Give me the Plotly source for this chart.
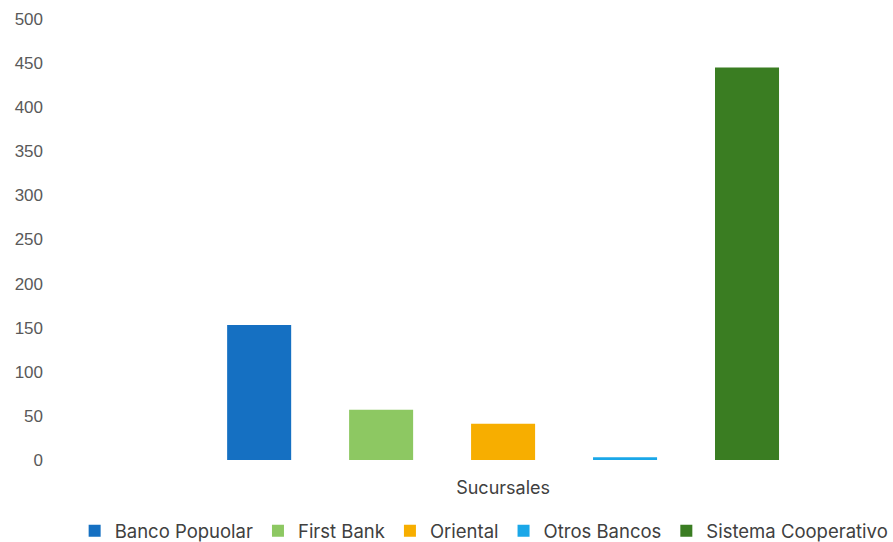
import plotly.graph_objects as go

category = ["Sucursales"]
series_names = ["Banco Popuolar", "First Bank", "Oriental", "Otros Bancos", "Sistema Cooperativo"]
series_values = [153, 57, 41, 3, 445]
series_colors = ["#1570C2", "#8DC862", "#F7AE00", "#1AA7E8", "#3A7D22"]
y_ticks = [0, 50, 100, 150, 200, 250, 300, 350, 400, 450, 500]

fig = go.Figure()
for name, val, col in zip(series_names, series_values, series_colors):
    fig.add_trace(go.Bar(x=category, y=[val], name=name, marker=dict(color=col, line=dict(width=0))))

fig.update_layout(
    width=893, height=542,
    margin=dict(l=50, r=0, t=19, b=82, autoexpand=False),
    paper_bgcolor="white", plot_bgcolor="white",
    barmode="group", bargap=0.218, bargroupgap=0.475,
    font=dict(family="Liberation Sans, Arial, sans-serif", color="#595959", size=16),
    showlegend=True,
    legend=dict(orientation="h", x=0.515, xanchor="center",
                yref="container", y=0.02, yanchor="middle",
                font=dict(family="Inter, sans-serif", size=18.5, color="#404040"),
                itemwidth=30, traceorder="normal"),
    xaxis=dict(range=[-0.581, 0.5], showgrid=False, zeroline=False, showline=False,
               ticks="", ticklabelstandoff=15,
               tickfont=dict(family="Inter, sans-serif", size=18, color="#404040")),
    yaxis=dict(range=[0, 500], tickvals=y_ticks, showgrid=False, zeroline=False, showline=False,
               tickfont=dict(size=17, color="#595959"), ticklabelstandoff=6),
)

fig.write_html("out.html")
